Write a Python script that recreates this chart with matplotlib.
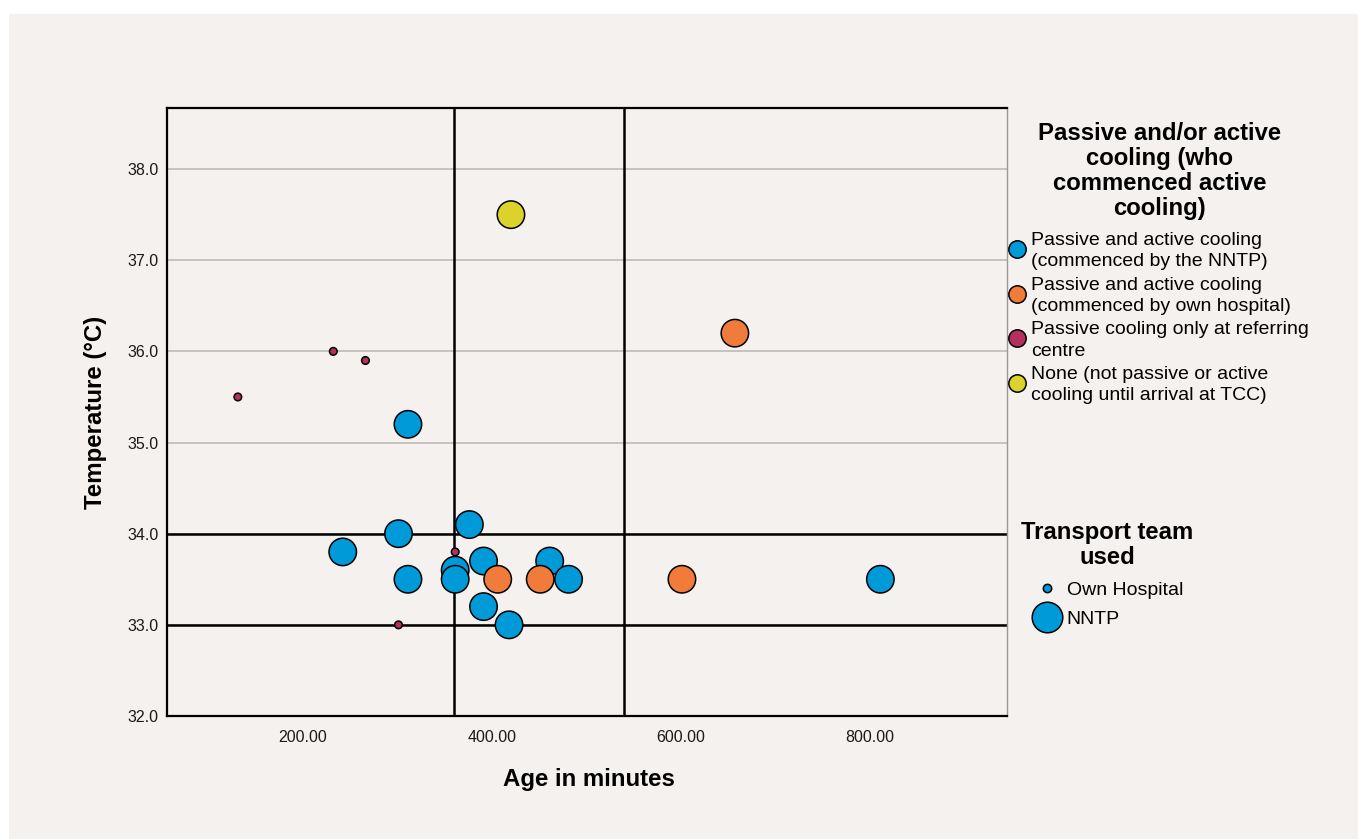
import matplotlib
matplotlib.use("Agg")
import matplotlib.pyplot as plt
from matplotlib.lines import Line2D
from matplotlib.patches import Rectangle
from matplotlib.ticker import FormatStrFormatter

plt.rcParams['font.family'] = ['Liberation Sans', 'DejaVu Sans']

# Cooling status categories and their colours
cooling_labels = [
    "Passive and active cooling\n(commenced by the NNTP)",
    "Passive and active cooling\n(commenced by own hospital)",
    "Passive cooling only at referring\ncentre",
    "None (not passive or active\ncooling until arrival at TCC)",
]
cooling_colors = ["#009ad9", "#f07b3b", "#b3305f", "#dcd22c"]

team_labels = ["Own Hospital", "NNTP"]
team_sizes = [30, 390]

# Patients: age at measurement (min), temperature (°C), cooling group index, team index
age_min = [420, 657, 232, 266, 131, 311, 376, 301, 242, 361, 391, 461,
           361, 311, 361, 406, 451, 481, 601, 811, 391, 301, 418]
temp_c = [37.5, 36.2, 36.0, 35.9, 35.5, 35.2, 34.1, 34.0, 33.8, 33.8, 33.7, 33.7,
          33.6, 33.5, 33.5, 33.5, 33.5, 33.5, 33.5, 33.5, 33.2, 33.0, 33.0]
cooling_group = [3, 1, 2, 2, 2, 0, 0, 0, 0, 2, 0, 0,
                 0, 0, 0, 1, 1, 0, 1, 0, 0, 2, 0]
team_group = [1, 1, 0, 0, 0, 1, 1, 1, 1, 0, 1, 1,
              1, 1, 1, 1, 1, 1, 1, 1, 1, 0, 1]

ref_times = [360, 540]
ref_temps = [33.0, 34.0]

x_ticks = [200, 400, 600, 800]
y_ticks = [32, 33, 34, 35, 36, 37, 38]

bg = "#f4f1ee"
W, H = 1358, 839
fig = plt.figure(figsize=(W / 100, H / 100), dpi=100, facecolor="white")
fig.add_artist(Rectangle((9 / W, 0), 1 - 9 / W, 1 - 14 / H, transform=fig.transFigure,
                         facecolor=bg, edgecolor="none", zorder=-10))

ax = fig.add_axes([167 / W, 1 - 716 / H, (1007 - 167) / W, (716 - 108) / H])
ax.set_facecolor(bg)
ax.set_xlim(56, 945)
ax.set_ylim(32, 38.67)

for t in y_ticks:
    ax.axhline(t, color="#bdbab7", lw=1.2, zorder=0)
for t in ref_temps:
    ax.axhline(t, color="black", lw=1.8, zorder=1)
for t in ref_times:
    ax.axvline(t, color="black", lw=1.8, zorder=1)

ax.scatter(age_min, temp_c,
           c=[cooling_colors[g] for g in cooling_group],
           s=[team_sizes[g] for g in team_group],
           edgecolors="black", linewidths=1.1, zorder=3)

ax.set_xticks(x_ticks)
ax.set_yticks(y_ticks)
ax.xaxis.set_major_formatter(FormatStrFormatter("%.2f"))
ax.yaxis.set_major_formatter(FormatStrFormatter("%.1f"))
ax.tick_params(axis="both", length=0, labelsize=11.5, colors="#1a1a1a")
ax.tick_params(axis="x", pad=10)
ax.tick_params(axis="y", pad=6)

for side in ["left", "top", "bottom"]:
    ax.spines[side].set_color("black")
    ax.spines[side].set_linewidth(1.6)
ax.spines["right"].set_color("#999999")
ax.spines["right"].set_linewidth(1.0)

ax.set_xlabel("Age in minutes", fontsize=17.3, fontweight="bold")
ax.set_ylabel("Temperature (°C)", fontsize=17.3, fontweight="bold")
ax.xaxis.set_label_coords(0.502, -0.086)
ax.yaxis.set_label_coords(-0.0715, 0.5)

# Legend: cooling status
fig.text(1160 / W, 1 - 122 / H,
         "Passive and/or active\ncooling (who\ncommenced active\ncooling)",
         ha="center", va="top", fontsize=17.2, fontweight="bold",
         multialignment="center", linespacing=1.12)
cool_handles = [Line2D([], [], ls="", marker="o", markersize=12.5,
                       markerfacecolor=c, markeredgecolor="black", markeredgewidth=1.1)
                for c in cooling_colors]
leg1 = fig.legend(cool_handles, cooling_labels, loc="upper left",
                  bbox_to_anchor=(1007 / W, 1 - 232 / H), bbox_transform=fig.transFigure,
                  frameon=False, fontsize=14, handlelength=1.0, handletextpad=0.22,
                  handleheight=1.4, labelspacing=0.33, borderpad=0, borderaxespad=0)
for t in leg1.get_texts():
    t.set_linespacing(1.33)

# Legend: transport team
fig.text(1107 / W, 1 - 521 / H, "Transport team\nused",
         ha="center", va="top", fontsize=17.2, fontweight="bold",
         multialignment="center", linespacing=1.12)
team_handles = [Line2D([], [], ls="", marker="o", markersize=ms,
                       markerfacecolor=cooling_colors[0], markeredgecolor="black",
                       markeredgewidth=1.1)
                for ms in [6, 22]]
leg2 = fig.legend(team_handles, team_labels, loc="upper left",
                  bbox_to_anchor=(1031 / W, 1 - 581 / H), bbox_transform=fig.transFigure,
                  frameon=False, fontsize=14, handlelength=1.6, handletextpad=0.23,
                  labelspacing=0.6, borderpad=0, borderaxespad=0)

fig.savefig("out.png", dpi=100, facecolor=fig.get_facecolor())
